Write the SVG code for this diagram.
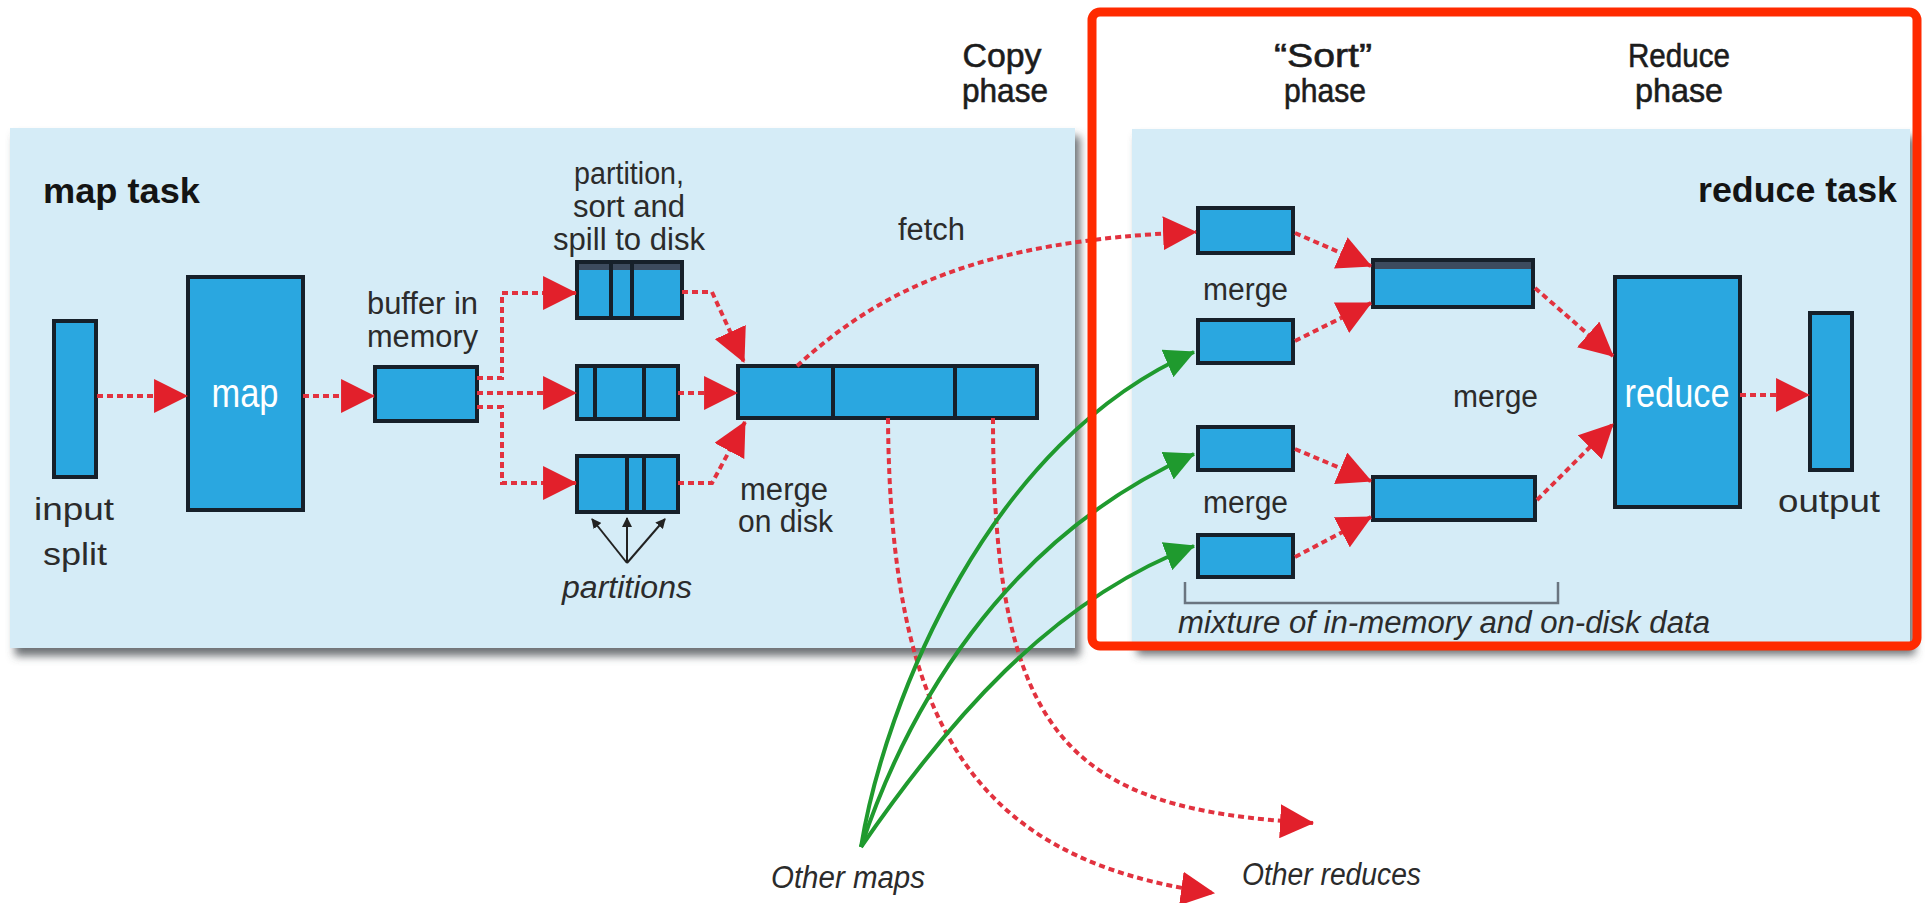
<svg xmlns="http://www.w3.org/2000/svg" width="1929" height="903" viewBox="0 0 1929 903">
<defs>
<style>
.panel{fill:#d5ecf7}
.box{fill:#2aa7e0;stroke:#16202a;stroke-width:4}
.dv{stroke:#16202a;stroke-width:4}
.band{fill:#3d4b5e}
.t{font-family:"Liberation Sans",Arial,sans-serif;font-size:31px;fill:#2b2b2b}
.tb{font-weight:bold;font-size:35px;fill:#141414}
.ti{font-style:italic}
.tw{fill:#ffffff;font-size:40px}
.hdr{font-size:34px;fill:#1c1c1c;stroke:#1c1c1c;stroke-width:0.6}
.dot{fill:none;stroke:#e2323f;stroke-width:4;stroke-dasharray:6 4}
.grn{fill:none;stroke:#1f9a2e;stroke-width:4}
.blk{fill:none;stroke:#222;stroke-width:2}
.brk{fill:none;stroke:#6a7580;stroke-width:2.5}
</style>
<marker id="ar" markerUnits="userSpaceOnUse" markerWidth="34" markerHeight="34" viewBox="0 0 32 32" refX="31" refY="16" orient="auto"><path d="M0,0 L32,16 L0,32 z" fill="#e2202b"/></marker>
<marker id="ag" markerUnits="userSpaceOnUse" markerWidth="30" markerHeight="30" viewBox="0 0 28 28" refX="27" refY="14" orient="auto"><path d="M0,0 L28,14 L0,28 z" fill="#1f9a2e"/></marker>
<marker id="ab" markerUnits="userSpaceOnUse" markerWidth="10" markerHeight="10" viewBox="0 0 10 10" refX="9" refY="5" orient="auto"><path d="M0,0 L10,5 L0,10 z" fill="#222"/></marker>
<filter id="sh" x="-3%" y="-5%" width="108%" height="115%"><feDropShadow dx="5" dy="8" stdDeviation="4" flood-color="#4a4f55" flood-opacity="0.8"/></filter>
</defs>
<rect width="1929" height="903" fill="#ffffff"/>

<g id="map-task-panel">
<rect class="panel" x="10" y="128" width="1065" height="520" filter="url(#sh)"/>
<text class="t tb" x="43" y="203" textLength="157" lengthAdjust="spacingAndGlyphs">map task</text>
</g>
<g id="reduce-task-panel">
<rect class="panel" x="1132" y="129" width="778" height="518" filter="url(#sh)"/>
<text class="t tb" x="1698" y="202" textLength="199" lengthAdjust="spacingAndGlyphs">reduce task</text>
</g>

<g id="phase-headers">
<text class="t hdr" x="1002" y="67" text-anchor="middle" textLength="79" lengthAdjust="spacingAndGlyphs">Copy</text>
<text class="t hdr" x="1005" y="102" text-anchor="middle" textLength="86" lengthAdjust="spacingAndGlyphs">phase</text>
<text class="t hdr" x="1323" y="67" text-anchor="middle" textLength="98" lengthAdjust="spacingAndGlyphs">“Sort”</text>
<text class="t hdr" x="1325" y="102" text-anchor="middle" textLength="82" lengthAdjust="spacingAndGlyphs">phase</text>
<text class="t hdr" x="1679" y="67" text-anchor="middle" textLength="102" lengthAdjust="spacingAndGlyphs">Reduce</text>
<text class="t hdr" x="1679" y="102" text-anchor="middle" textLength="88" lengthAdjust="spacingAndGlyphs">phase</text>
</g>

<g id="input-split">
<rect class="box" x="54" y="321" width="42" height="156"/>
<text class="t" x="74" y="520" text-anchor="middle" font-size="34" textLength="80" lengthAdjust="spacingAndGlyphs">input</text>
<text class="t" x="75" y="565" text-anchor="middle" font-size="34" textLength="64" lengthAdjust="spacingAndGlyphs">split</text>
</g>
<g id="map">
<rect class="box" x="188" y="277" width="115" height="233"/>
<text class="t tw" x="245" y="407" text-anchor="middle" textLength="67" lengthAdjust="spacingAndGlyphs">map</text>
</g>
<g id="buffer">
<rect class="box" x="375" y="367" width="102" height="54"/>
<text class="t" x="367" y="314" font-size="27" textLength="111" lengthAdjust="spacingAndGlyphs">buffer in</text>
<text class="t" x="367" y="347" font-size="27" textLength="111" lengthAdjust="spacingAndGlyphs">memory</text>
</g>
<g id="spill-label">
<text class="t" x="629" y="184" text-anchor="middle" font-size="29" textLength="110" lengthAdjust="spacingAndGlyphs">partition,</text>
<text class="t" x="629" y="217" text-anchor="middle" font-size="29" textLength="112" lengthAdjust="spacingAndGlyphs">sort and</text>
<text class="t" x="629" y="250" text-anchor="middle" font-size="29" textLength="152" lengthAdjust="spacingAndGlyphs">spill to disk</text>
</g>
<g id="spill-1">
<rect class="box" x="577" y="262" width="105" height="56"/>
<rect class="band" x="579" y="264" width="101" height="6"/>
<line class="dv" x1="611" y1="262" x2="611" y2="318"/>
<line class="dv" x1="632" y1="262" x2="632" y2="318"/>
</g>
<g id="spill-2">
<rect class="box" x="577" y="366" width="101" height="53"/>
<line class="dv" x1="595" y1="366" x2="595" y2="419"/>
<line class="dv" x1="644" y1="366" x2="644" y2="419"/>
</g>
<g id="spill-3">
<rect class="box" x="577" y="456" width="101" height="56"/>
<line class="dv" x1="627" y1="456" x2="627" y2="512"/>
<line class="dv" x1="644" y1="456" x2="644" y2="512"/>
</g>
<g id="partitions-label">
<text class="t ti" x="627" y="598" text-anchor="middle" font-size="30" textLength="130" lengthAdjust="spacingAndGlyphs">partitions</text>
</g>
<g id="merge-on-disk">
<rect class="box" x="738" y="366" width="299" height="52"/>
<line class="dv" x1="833" y1="366" x2="833" y2="418"/>
<line class="dv" x1="955" y1="366" x2="955" y2="418"/>
<text class="t" x="740" y="500" textLength="88" lengthAdjust="spacingAndGlyphs">merge</text>
<text class="t" x="738" y="532" textLength="95" lengthAdjust="spacingAndGlyphs">on disk</text>
</g>
<g id="fetch-label">
<text class="t" x="898" y="240" textLength="67" lengthAdjust="spacingAndGlyphs">fetch</text>
</g>

<g id="sort-1"><rect class="box" x="1198" y="208" width="95" height="45"/></g>
<g id="sort-2"><rect class="box" x="1198" y="320" width="95" height="43"/></g>
<g id="sort-3"><rect class="box" x="1198" y="427" width="95" height="43"/></g>
<g id="sort-4"><rect class="box" x="1198" y="535" width="95" height="42"/></g>
<g id="sort-labels">
<text class="t" x="1203" y="300" textLength="85" lengthAdjust="spacingAndGlyphs">merge</text>
<text class="t" x="1203" y="513" textLength="85" lengthAdjust="spacingAndGlyphs">merge</text>
<text class="t" x="1453" y="407" textLength="85" lengthAdjust="spacingAndGlyphs">merge</text>
</g>
<g id="merged-a">
<rect class="box" x="1373" y="260" width="160" height="47"/>
<rect class="band" x="1375" y="262" width="156" height="7"/>
</g>
<g id="merged-b"><rect class="box" x="1373" y="477" width="162" height="43"/></g>
<g id="reduce">
<rect class="box" x="1615" y="277" width="125" height="230"/>
<text class="t tw" x="1677" y="407" text-anchor="middle" textLength="105" lengthAdjust="spacingAndGlyphs">reduce</text>
</g>
<g id="output">
<rect class="box" x="1810" y="313" width="42" height="157"/>
<text class="t" x="1829" y="512" text-anchor="middle" font-size="34" textLength="102" lengthAdjust="spacingAndGlyphs">output</text>
</g>
<g id="mixture-note">
<path class="brk" d="M1185,582 V603 H1558 V582"/>
<text class="t ti" x="1178" y="633" textLength="532" lengthAdjust="spacingAndGlyphs">mixture of in-memory and on-disk data</text>
</g>
<g id="other-maps"><text class="t ti" x="771" y="888" textLength="154" lengthAdjust="spacingAndGlyphs">Other maps</text></g>
<g id="other-reduces"><text class="t ti" x="1242" y="885" textLength="179" lengthAdjust="spacingAndGlyphs">Other reduces</text></g>

<g id="connectors">
<path class="dot" d="M97,396 L187,396" marker-end="url(#ar)"/>
<path class="dot" d="M303,396 L374,396" marker-end="url(#ar)"/>
<path class="dot" d="M477,378 H502 V293 H576" marker-end="url(#ar)"/>
<path class="dot" d="M477,393 H576" marker-end="url(#ar)"/>
<path class="dot" d="M477,407 H502 V483 H576" marker-end="url(#ar)"/>
<path class="dot" d="M682,292 H712 L744,362" marker-end="url(#ar)"/>
<path class="dot" d="M678,393 H737" marker-end="url(#ar)"/>
<path class="dot" d="M678,483 H712 L745,422" marker-end="url(#ar)"/>
<path class="dot" d="M797,366 C880,290 980,240 1196,232" marker-end="url(#ar)"/>
<path class="dot" d="M888,418 C890,720 970,860 1214,893" marker-end="url(#ar)"/>
<path class="dot" d="M993,418 C993,740 1070,810 1313,823" marker-end="url(#ar)"/>
<path class="dot" d="M1295,233 L1371,266" marker-end="url(#ar)"/>
<path class="dot" d="M1295,341 L1371,303" marker-end="url(#ar)"/>
<path class="dot" d="M1295,449 L1371,481" marker-end="url(#ar)"/>
<path class="dot" d="M1295,557 L1371,517" marker-end="url(#ar)"/>
<path class="dot" d="M1535,288 L1613,356" marker-end="url(#ar)"/>
<path class="dot" d="M1537,500 L1613,424" marker-end="url(#ar)"/>
<path class="dot" d="M1740,395 L1809,395" marker-end="url(#ar)"/>
<path class="grn" d="M861,847 C885,700 990,440 1194,352" marker-end="url(#ag)"/>
<path class="grn" d="M861,847 C905,715 1000,540 1194,454" marker-end="url(#ag)"/>
<path class="grn" d="M861,847 C945,725 1050,600 1194,546" marker-end="url(#ag)"/>
<path class="blk" d="M627,563 L592,519" marker-end="url(#ab)"/>
<path class="blk" d="M627,563 L627,518" marker-end="url(#ab)"/>
<path class="blk" d="M627,563 L665,519" marker-end="url(#ab)"/>
</g>

<g id="highlight-frame">
<rect x="1092" y="12" width="825" height="634" rx="8" fill="none" stroke="#ff2a00" stroke-width="9"/>
</g>
</svg>
